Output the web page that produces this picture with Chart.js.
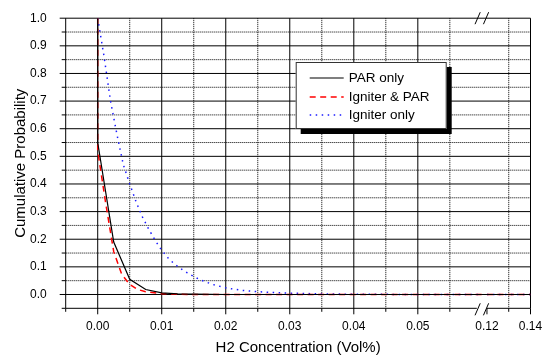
<!DOCTYPE html>
<html><head><meta charset="utf-8">
<script src="https://cdn.jsdelivr.net/npm/chart.js@4/dist/chart.umd.min.js"></script>
<style>html,body{margin:0;padding:0;background:#fff;}</style>
</head><body>
<canvas id="c" width="548" height="359" style="display:block"></canvas>
<script>
// ---- data (x = H2 concentration Vol%, y = cumulative probability) ----
const parX = [0, 0, 0.0025, 0.005, 0.0075, 0.01, 0.0125, 0.015, 0.02, 0.03, 0.04, 0.05, 0.06, 0.12, 0.13, 0.14];
const parY = [1.0, 0.55, 0.19, 0.055, 0.018, 0.006, 0.002, 0.001, 0, 0, 0, 0, 0, 0, 0, 0];

const bothX = [0, 0, 0.00125, 0.0025, 0.00375, 0.005, 0.00625, 0.0075, 0.01, 0.0125, 0.015, 0.02, 0.03, 0.04, 0.05, 0.06, 0.12, 0.13, 0.14];
const bothY = [1.0, 0.52, 0.33, 0.155, 0.073, 0.036, 0.018, 0.01, 0.003, 0.001, 0, 0, 0, 0, 0, 0, 0, 0, 0];

const ignX = [0, 0.001, 0.002, 0.003, 0.004, 0.005, 0.006, 0.007, 0.008, 0.009, 0.010, 0.011, 0.012, 0.013, 0.014, 0.015, 0.016, 0.018, 0.020, 0.0225, 0.025, 0.0275, 0.030, 0.035, 0.040, 0.050, 0.060, 0.12, 0.13, 0.14];
const ignY = [1.0, 0.86, 0.70, 0.58, 0.47, 0.40, 0.335, 0.28, 0.235, 0.195, 0.16, 0.132, 0.11, 0.093, 0.078, 0.065, 0.053, 0.036, 0.024, 0.015, 0.010, 0.007, 0.005, 0.002, 0.001, 0, 0, 0, 0, 0];

const seriesNames = ['PAR only', 'Igniter & PAR', 'Igniter only'];

const xMajorTicks = [0, 0.01, 0.02, 0.03, 0.04, 0.05, 0.12, 0.14];
const xTickLabels = ['0.00', '0.01', '0.02', '0.03', '0.04', '0.05', '0.12', '0.14'];
const xMinorTicks = [-0.005, 0.005, 0.015, 0.025, 0.035, 0.045, 0.055, 0.13];
const yMajorTicks = [0, 0.1, 0.2, 0.3, 0.4, 0.5, 0.6, 0.7, 0.8, 0.9, 1.0];
const yTickLabels = ['0.0', '0.1', '0.2', '0.3', '0.4', '0.5', '0.6', '0.7', '0.8', '0.9', '1.0'];
const yMinorTicks = [-0.05, 0.05, 0.15, 0.25, 0.35, 0.45, 0.55, 0.65, 0.75, 0.85, 0.95];

// ---- broken x axis mapping ----
const BREAK_LO = 0.06, BREAK_HI = 0.12, BREAK_GAP = 0.0008, POST_SCALE = 0.34;
function tx(x) { return x <= BREAK_LO ? x : BREAK_LO + BREAK_GAP + (x - BREAK_HI) * POST_SCALE; }

function toPoints(xs, ys) {
  const pts = [];
  for (let i = 0; i < xs.length; i++) {
    if (i > 0 && xs[i - 1] <= BREAK_LO && xs[i] >= BREAK_HI) pts.push({ x: tx(BREAK_LO) + BREAK_GAP / 2, y: null });
    pts.push({ x: tx(xs[i]), y: ys[i] });
  }
  return pts;
}

const FONT = "'Liberation Sans', Arial, sans-serif";

const gridPlugin = {
  id: 'gridPlugin',
  beforeDatasetsDraw(chart) {
    const { ctx, chartArea: a, scales: { x, y } } = chart;
    ctx.save();
    ctx.lineWidth = 1;
    ctx.strokeStyle = '#000';
    // minor dotted grid
    ctx.setLineDash([1, 1]);
    yMinorTicks.forEach(v => { if (v <= -0.05) return; const py = y.getPixelForValue(v); ctx.beginPath(); ctx.moveTo(a.left, py); ctx.lineTo(a.right, py); ctx.stroke(); });
    xMinorTicks.forEach(v => { if (v <= -0.005) return; const px = x.getPixelForValue(tx(v)); ctx.beginPath(); ctx.moveTo(px, a.top); ctx.lineTo(px, a.bottom); ctx.stroke(); });
    ctx.setLineDash([]);
    // major solid grid
    yMajorTicks.forEach(v => { const py = y.getPixelForValue(v); ctx.beginPath(); ctx.moveTo(a.left - 6, py); ctx.lineTo(a.right, py); ctx.stroke(); });
    xMajorTicks.forEach(v => { if (v >= BREAK_HI) return; const px = x.getPixelForValue(tx(v)); ctx.beginPath(); ctx.moveTo(px, a.top); ctx.lineTo(px, a.bottom + 6); ctx.stroke(); });
    // minor tick marks
    yMinorTicks.forEach(v => { const py = y.getPixelForValue(v); ctx.beginPath(); ctx.moveTo(a.left - 4, py); ctx.lineTo(a.left, py); ctx.stroke(); });
    xMinorTicks.forEach(v => { const px = x.getPixelForValue(tx(v)); ctx.beginPath(); ctx.moveTo(px, a.bottom); ctx.lineTo(px, a.bottom + 3.5); ctx.stroke(); });
    xMajorTicks.forEach(v => { if (v < BREAK_HI) return; const px = x.getPixelForValue(tx(v)); ctx.beginPath(); ctx.moveTo(px, a.bottom); ctx.lineTo(px, a.bottom + 6); ctx.stroke(); });
    // frame: left, right, bottom (with break gap)
    const xb = x.getPixelForValue(tx(BREAK_LO));
    ctx.beginPath(); ctx.moveTo(a.left, a.top); ctx.lineTo(a.left, a.bottom); ctx.stroke();
    ctx.beginPath(); ctx.moveTo(a.right, a.top); ctx.lineTo(a.right, a.bottom); ctx.stroke();
    ctx.beginPath(); ctx.moveTo(a.left, a.bottom); ctx.lineTo(xb - 5, a.bottom); ctx.stroke();
    ctx.beginPath(); ctx.moveTo(xb + 5, a.bottom); ctx.lineTo(a.right, a.bottom); ctx.stroke();
    ctx.restore();
  },
  afterDraw(chart) {
    const { ctx, chartArea: a, scales: { x } } = chart;
    ctx.save();
    // break marks
    const xb = x.getPixelForValue(tx(BREAK_LO));
    ctx.strokeStyle = '#000'; ctx.lineWidth = 1;
    [a.top, a.bottom + 1].forEach(cy => {
      [-4.2, 4.2].forEach(dx => {
        ctx.beginPath(); ctx.moveTo(xb + dx - 2.6, cy + 6); ctx.lineTo(xb + dx + 2.6, cy - 6); ctx.stroke();
      });
    });
    // legend box with shadow
    const L = a.left + 230, T = 62, W = 151, H = 67;
    ctx.fillStyle = '#000';
    ctx.fillRect(L + 5, T + 5, W, H);
    ctx.fillStyle = '#fff';
    ctx.fillRect(L, T, W, H);
    ctx.strokeStyle = '#333'; ctx.lineWidth = 1;
    ctx.strokeRect(L + 0.5, T + 0.5, W - 1, H - 1);
    const rows = [T + 16, T + 35, T + 53];
    chart.data.datasets.forEach((ds, i) => {
      ctx.strokeStyle = ds.borderColor; ctx.lineWidth = ds.borderWidth;
      ctx.setLineDash(ds.borderDash || []);
      ctx.beginPath(); ctx.moveTo(L + 14, rows[i]); ctx.lineTo(L + 48, rows[i]); ctx.stroke();
      ctx.setLineDash([]);
      ctx.fillStyle = '#000'; ctx.font = '13.5px ' + FONT; ctx.textBaseline = 'middle'; ctx.textAlign = 'left';
      ctx.fillText(ds.label, L + 53, rows[i] + 0.5);
    });
    ctx.restore();
  }
};

new Chart(document.getElementById('c'), {
  type: 'scatter',
  data: {
    datasets: [
      { label: seriesNames[0], data: toPoints(parX, parY), showLine: true, borderColor: '#000000', borderWidth: 1.2, pointRadius: 0, spanGaps: false },
      { label: seriesNames[1], data: toPoints(bothX, bothY), showLine: true, borderColor: '#ff0000', borderWidth: 1.5, borderDash: [6, 4.5], pointRadius: 0, spanGaps: false },
      { label: seriesNames[2], data: toPoints(ignX, ignY), showLine: true, borderColor: '#1a1aff', borderWidth: 1.5, borderDash: [1.5, 4.5], pointRadius: 0, spanGaps: false }
    ]
  },
  options: {
    responsive: false, animation: false, devicePixelRatio: 1,
    layout: { padding: { left: 0, right: 17.5, top: 9, bottom: 0 } },
    plugins: { legend: { display: false }, tooltip: { enabled: false } },
    scales: {
      x: {
        type: 'linear', min: -0.005, max: tx(0.14),
        grid: { display: false }, border: { display: false },
        afterBuildTicks(s) { s.ticks = xMajorTicks.map(v => ({ value: tx(v) })); },
        afterFit(s) { s.height = 50.7; },
        ticks: { autoSkip: false, maxRotation: 0, padding: 3, color: '#000', font: { family: FONT, size: 12 },
          callback(v, i) { return xTickLabels[i]; } },
        title: { display: true, text: 'H2 Concentration (Vol%)', color: '#000', font: { family: FONT, size: 15 }, padding: { top: 0, bottom: 2 } }
      },
      y: {
        type: 'linear', min: -0.05, max: 1.0,
        grid: { display: false }, border: { display: false },
        afterBuildTicks(s) { s.ticks = yMajorTicks.map(v => ({ value: v })); },
        afterFit(s) { s.width = 65.7; },
        ticks: { autoSkip: false, padding: 11, color: '#000', font: { family: FONT, size: 12 },
          callback(v, i) { return yTickLabels[i]; } },
        title: { display: true, text: 'Cumulative Probability', color: '#000', font: { family: FONT, size: 15 }, padding: { top: 12, bottom: 0 } }
      }
    }
  },
  plugins: [gridPlugin]
});
</script>
</body></html>
